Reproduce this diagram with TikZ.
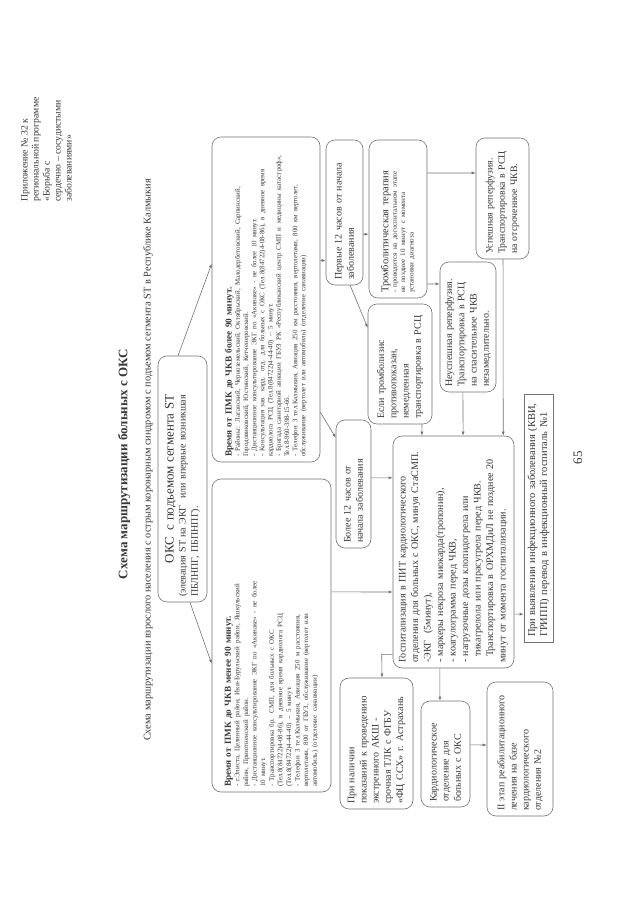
\documentclass[tikz,border=0pt]{standalone}
\usepackage{fontspec}
\setmainfont{Liberation Serif}
\usetikzlibrary{arrows.meta,calc}
\definecolor{ink}{gray}{0.22}
\definecolor{edge}{gray}{0.45}
\tikzset{
  bx/.style={draw=edge, line width=0.6pt, rounded corners=9pt, inner xsep=5pt, inner ysep=2pt, align=left, text=ink, font=\fontsize{10}{12.2}\selectfont},
  sq/.style={draw=edge, line width=0.6pt, inner xsep=5pt, inner ysep=1pt, align=left, text=ink, font=\fontsize{10.5}{12}\selectfont},
  sz/.style n args={3}{minimum width=#1pt, minimum height=#2pt, text width=#3pt},
  arr/.style={draw=edge, line width=0.6pt, -{Latex[length=4pt,width=3pt]}},
  lbl/.style={text=ink, inner sep=0pt}
}
\begin{document}
\begin{tikzpicture}[x=1pt,y=1pt]
\fill[white] (0,0) rectangle (640,904);
\useasboundingbox (0,0) rectangle (640,904);
\begin{scope}[rotate=90, transform shape]
% header texts
\node[lbl, anchor=north west, align=left, font=\fontsize{9.7}{11}\selectfont] (annex) at (702,-21)
  {Приложение № 32 к\\ региональной программе\\ «Борьба с\\ сердечно – сосудистыми\\ заболеваниями»};
\node[lbl, font=\fontsize{13}{15}\bfseries] (title) at (440,-124) {Схема маршрутизации больных с ОКС};
\node[lbl, font=\fontsize{10.3}{12}\selectfont] (subtitle) at (444,-148)
  {Схема маршрутизации взрослого населения с острым коронарным синдромом с подъемом сегмента ST в Республике Калмыкия};
\node[lbl, font=\fontsize{13}{15}\selectfont] (pagenum) at (446,-578) {65};

% boxes
\node[bx, sz={246}{49}{236}] (okc) at (425,-182.5)
  {\makebox[\linewidth][c]{\fontsize{13}{15}\selectfont ОКС\ \ с подъемом сегмента ST}\\
   (элевация ST на ЭКГ\ \ или впервые возникшая\\ ПБЛНПГ, ПБПНПГ).};

\node[bx, sz={313}{119}{303}] (lb) at (268.5,-271.5)
  {{\fontsize{9.2}{12}\bfseries Время от ПМК до ЧКВ менее 90 минут.}\par
   {\fontsize{6.9}{8.6}\selectfont
   - г.Элиста, Целинный район, Ики-Бурульский район, Яшкульский\\ район, Приютненский район.\\
   - Дистанционное консультирование ЭКГ по «Акинаке» - не более\\ 10 минут.\\
   - Транспортировка бр. СМП, для больных с ОКС\\ (Тел.8(84722)4-08-86), в дневное время кардиолога РСЦ\\ (Тел.8(84722)4-44-40) – 5 минут.\\
   - Телефон 3 тел.Калмыкия, Авиация 250 м расстояния,\\ вертолетами, 800 от ГБУЗ, обслуживание (вертолет или\\ автомобиль) (отделение санавиации)\par}};

\node[bx, sz={325}{108}{315}] (rb) at (604.5,-266)
  {{\fontsize{9.2}{12}\bfseries Время от ПМК до ЧКВ более 90 минут.}\par
   {\fontsize{6.9}{8.2}\selectfont
   - Районы: Лаганский, Черноземельский, Октябрьский, Малодербетовский, Сарпинский, Городовиковский, Юстинский, Кетченеровский.\\
   - Дистанционное консультирование ЭКГ по «Акинаке» - не более 10 минут.\\
   - Консультация зав. кард. отд. для больных с ОКС (Тел.8(84722)4-08-86), в дневное время кардиолога РСЦ (Тел.8(84722)4-44-40) – 5 минут.\\
   - Бригада санитарной авиации ГБУЗ РК «Республиканский центр СМП и медицины катастроф», Тел.8-960-398-15-66.\\
   - Телефон 3 тел.Калмыкия, Авиация 250 км расстояния, вертолетами, 800 км вертолет, обслуживание (вертолет или автомобиль) (отделение санавиации)\par}};

\node[bx, sz={145}{37}{135}] (p12) at (691.5,-344.5) {Первые 12 часов от начала\\ заболевания};
\node[bx, sz={128}{35}{118}] (m12) at (420,-353.5) {Более 12 часов от\\ начала заболевания};
\node[bx, sz={158}{58}{148}] (tlt) at (685,-398)
  {{\fontsize{10.5}{12.5}\selectfont Тромболитическая терапия}\par
   {\fontsize{7}{8.4}\selectfont - проводится на догоспитальном этапе\\ не позднее 10 минут с момента\\ установки диагноза\par}};
\node[bx, sz={120}{64}{110}] (esl) at (540,-400)
  {Если тромболизис\\ противопоказан,\\ немедленная\\ транспортировка в РСЦ};
\node[bx, sz={130}{56}{120}] (neu) at (577,-468)
  {Неуспешная реперфузия.\\ Транспортировка в РСЦ\\ на спасительное ЧКВ\\ незамедлительно.};
\node[bx, sz={121}{53}{111}, font=\fontsize{9.8}{12.2}\selectfont] (usp) at (705.5,-502.5)
  {Успешная реперфузия.\\ Транспортировка в РСЦ\\ на отсроченное ЧКВ.};
\node[bx, sz={232}{121}{222}, font=\fontsize{10.1}{12.5}\selectfont] (pit) at (352,-453.5)
  {Госпитализация в ПИТ кардиологического\\ отделения для больных с ОКС, минуя СтаСМП.\\
   -ЭКГ\ \ (5минут),\\ - маркеры некроза миокарда(тропонин),\\ - коагулограмма перед ЧКВ,\\
   - нагрузочные дозы клопидогрела или\\ \hspace*{6pt}тикагрелола или прасугрела перед ЧКВ.\\
   \hspace*{6pt}Транспортировка в ОРХМДиЛ не позднее 20\\ минут от момента госпитализации.};
\node[sq, sz={248}{29}{238}] (inf) at (386,-538.5)
  {При выявлении инфекционного заболевания (КВИ,\\ ГРИПП) перевод в инфекционный госпиталь №1};
\node[bx, sz={131}{73}{121}] (aksh) at (160.5,-376.5)
  {При наличии\\ показаний к проведению\\ экстренного АКШ -\\ срочная ТЛК с ФГБУ\\ «ФЦ ССХ» г. Астрахань};
\node[bx, sz={106}{49}{96}] (kard) at (150,-445.5)
  {Кардиологическое\\ отделение для\\ больных с ОКС};
\node[bx, sz={134}{66}{124}] (etap) at (155,-520)
  {II этап реабилитационного\\ лечения на базе\\ кардиологического\\ отделения №2};

% connectors
\draw[arr] ($(okc.north west)!0.65!(okc.south west)$) -- ($(lb.north west)!0.41!(lb.north east)$);
\draw[arr] ($(okc.north east)!0.41!(okc.south east)$) -- ($(rb.north west)!0.61!(rb.north east)$);
\draw[arr] ($(rb.south west)!0.62!(rb.south east)$) -- ($(p12.north west)!0.17!(p12.north east)$);
\draw[arr] ($(rb.south west)!0.154!(rb.south east)$) -- ($(m12.north west)!0.86!(m12.north east)$);
\draw[arr] ($(p12.south west)!0.35!(p12.south east)$) -- ($(tlt.north west)!0.405!(tlt.north east)$);
\draw[arr] ($(p12.north west)!0.65!(p12.south west)$) -- ($(esl.north west)!0.8!(esl.north east)$);
\draw[arr] ($(tlt.south west)!0.79!(tlt.south east)$) -- ($(usp.north west)!0.71!(usp.north east)$);
\draw[arr] ($(tlt.south west)!0.09!(tlt.south east)$) -- ($(neu.north west)!0.83!(neu.north east)$);
\draw[arr] ($(usp.north west)!0.51!(usp.south west)$) -- ($(pit.north east)!0.909!(pit.south east)$);
\draw[arr] ($(neu.north west)!0.41!(neu.south west)$) -- ($(pit.north east)!0.579!(pit.south east)$);
\draw[arr] ($(esl.north west)!0.84!(esl.south west)$) -- ($(pit.north east)!0.24!(pit.south east)$);
\draw[arr] ($(m12.south west)!0.547!(m12.south east)$) -- ($(pit.north west)!0.819!(pit.north east)$);
\draw[arr] ($(lb.south west)!0.639!(lb.south east)$) -- ($(pit.north west)!0.328!(pit.north east)$);
\draw[arr] ($(pit.north west)!0.06!(pit.north east)$) -- ++(0,11) -- ($(aksh.north east)!0.575!(aksh.south east)$);
\draw[arr] ($(pit.north west)!0.388!(pit.south west)$) -- ($(kard.north east)!0.388!(kard.south east)$);
\draw[arr] ($(kard.south west)!0.585!(kard.south east)$) -- ($(etap.north west)!0.53!(etap.north east)$);
\draw[arr] ($(pit.south west)!0.233!(pit.south east)$) -- ($(inf.north west)!0.113!(inf.north east)$);
\end{scope}
\end{tikzpicture}
\end{document}
